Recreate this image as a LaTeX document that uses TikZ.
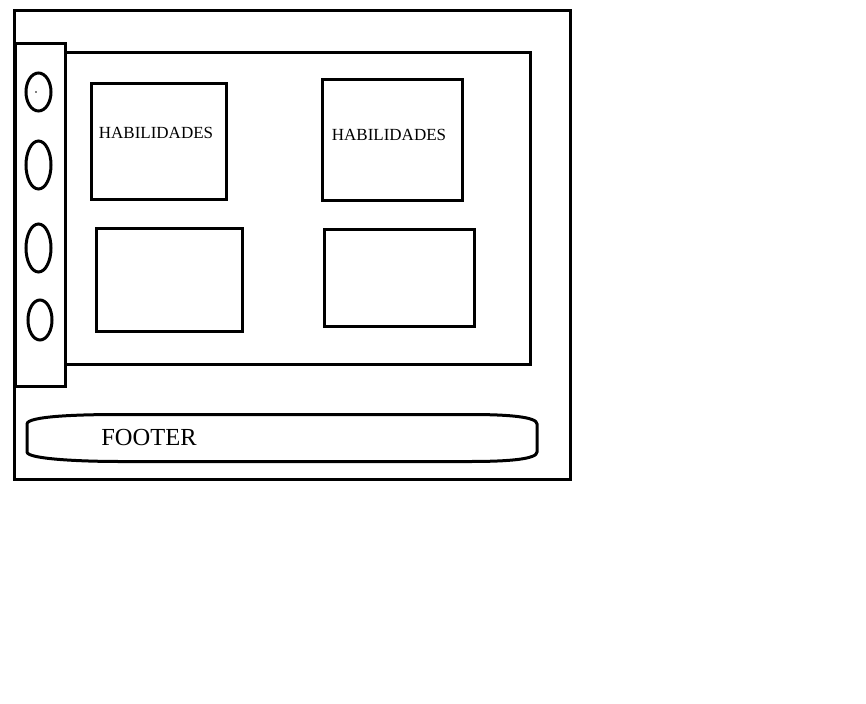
\documentclass[tikz,border=0pt]{standalone}
\usepackage{fontspec}
\setmainfont{Liberation Serif}
\begin{document}
\begin{tikzpicture}[x=1pt,y=-1pt,
  frame/.style={draw=black,line width=3pt},
  lbl/.style={inner sep=0pt,font=\fontsize{17}{17}\selectfont},
  footlbl/.style={inner sep=0pt,font=\fontsize{24.5}{24.5}\selectfont}]
\useasboundingbox (0,0) rectangle (866,703);
% outer frame
\draw[frame] (14,11) rectangle (570,479);
% main panel
\draw[frame] (65,53) rectangle (530,364);
% sidebar
\draw[frame,fill=white] (15,44) rectangle (65,386);
% sidebar ellipses
\draw[frame] (38.5,92) ellipse [x radius=12.5,y radius=19];
\draw[frame] (38.5,165) ellipse [x radius=12.5,y radius=24];
\draw[frame] (38.5,248) ellipse [x radius=12.5,y radius=24];
\draw[frame] (40,320) ellipse [x radius=12,y radius=20];
\fill (36,92) circle [radius=0.9];
% boxes
\draw[frame] (91,84) rectangle (226,200);
\draw[frame] (322,80) rectangle (462,201);
\draw[frame] (96,228) rectangle (242,331);
\draw[frame] (324,229) rectangle (474,326);
\node[lbl] (hab1) at (156,133) {HABILIDADES};
\node[lbl] (hab2) at (389,135) {HABILIDADES};
% footer
\draw[frame] (27,424) .. controls (27,416) and (80,414.5) .. (120,414.5)
  -- (470,414.5) .. controls (510,414.5) and (537,417) .. (537,424)
  -- (537,452) .. controls (537,459) and (510,461.5) .. (470,461.5)
  -- (120,461.5) .. controls (80,461.5) and (27,459) .. (27,452) -- cycle;
\node[footlbl] (footer) at (149,437.5) {FOOTER};
\end{tikzpicture}
\end{document}
